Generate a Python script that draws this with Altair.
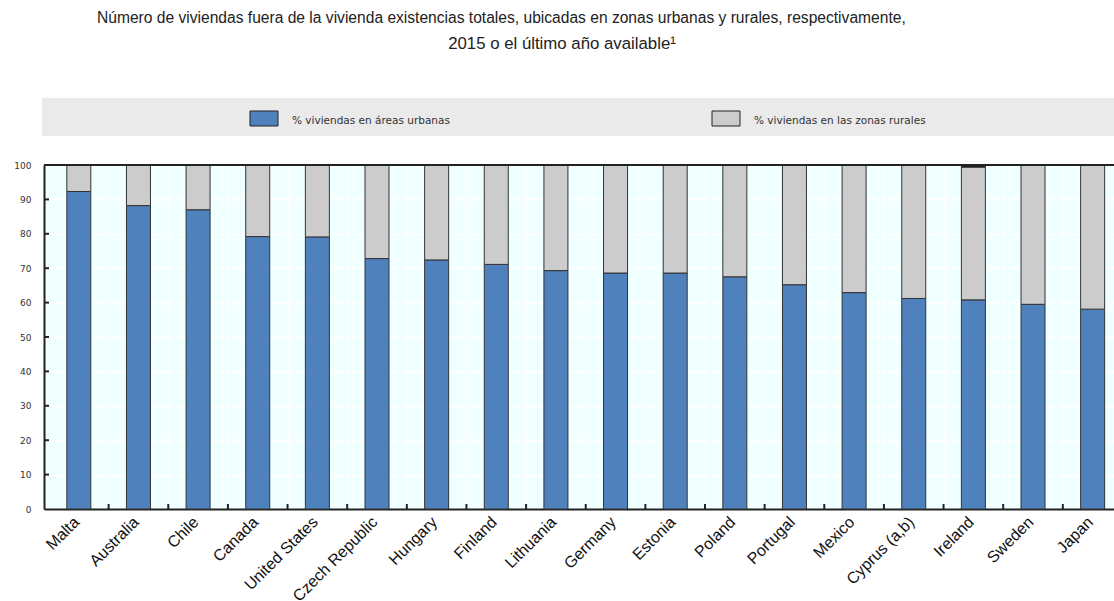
import altair as alt
import pandas as pd

# ---------------- data ----------------
countries = ["Malta", "Australia", "Chile", "Canada", "United States", "Czech Republic",
             "Hungary", "Finland", "Lithuania", "Germany", "Estonia", "Poland",
             "Portugal", "Mexico", "Cyprus (a,b)", "Ireland", "Sweden", "Japan"]
urban = [92.3, 88.2, 87.0, 79.2, 79.1, 72.8, 72.4, 71.1, 69.3, 68.6, 68.6, 67.5,
         65.2, 62.9, 61.2, 60.8, 59.5, 58.1]
rural = [7.7, 11.8, 13.0, 20.8, 20.9, 27.2, 27.6, 28.9, 30.7, 31.4, 31.4, 32.5,
         34.8, 37.1, 38.8, 38.6, 40.5, 41.9]
other = [0, 0, 0, 0, 0, 0, 0, 0, 0, 0, 0, 0, 0, 0, 0, 0.6, 0, 0]
series_names = ["% viviendas en áreas urbanas", "% viviendas en las zonas rurales", "n.d."]
y_ticks = [0, 10, 20, 30, 40, 50, 60, 70, 80, 90, 100]
title_line1 = "Número de viviendas fuera de la vivienda existencias totales, ubicadas en zonas urbanas y rurales, respectivamente,"
title_line2 = "2015 o el último año available¹"

# ---------------- styles ----------------
colors = ["#4F81BD", "#CCCCCC", "#111111"]
sans = "Liberation Sans, Arial"
small = "DejaVu Sans"

W, H = 1070, 344
STEP = 60.2

rows = []
for i, c in enumerate(countries):
    for k, vals in enumerate([urban, rural, other]):
        rows.append({"country": c, "idx": i, "series": series_names[k], "value": vals[i], "order": k})
df = pd.DataFrame(rows)
lab_df = pd.DataFrame({"country": countries, "idx": list(range(len(countries)))})
bounds = [i + 0.5 for i in range(len(countries) - 1)]
bnd_df = pd.DataFrame({"idx": bounds})
yt_df = pd.DataFrame({"value": y_ticks[1:-1]})

xs = alt.Scale(domain=[-0.5, -0.5 + W / STEP], nice=False, zero=False)
ys = alt.Scale(domain=[0, 100], nice=False)
xaxis = alt.Axis(values=bounds, grid=True, gridColor="white", gridWidth=1.5, ticks=False,
                 labels=False, domainColor="#222", domainWidth=2, title=None)
yaxis = alt.Axis(values=y_ticks, grid=True, gridColor="white", gridWidth=1.5, ticks=False,
                 labelPadding=13, labelFont=small, labelFontSize=9, labelColor="#333",
                 domainColor="#222", domainWidth=2, title=None)

bars = alt.Chart(df).mark_bar(size=24, stroke="#333", strokeWidth=1).encode(
    x=alt.X("idx:Q", scale=xs, axis=xaxis),
    y=alt.Y("value:Q", stack="zero", scale=ys, axis=yaxis),
    color=alt.Color("series:N", scale=alt.Scale(domain=series_names, range=colors), legend=None),
    order=alt.Order("order:Q"),
)

xticks = alt.Chart(bnd_df).mark_rule(color="#222", strokeWidth=2).encode(
    x=alt.X("idx:Q", scale=xs, axis=xaxis),
    y=alt.value(H), y2=alt.value(H - 5),
)
yticks = alt.Chart(yt_df).mark_rule(color="#222", strokeWidth=2).encode(
    y=alt.Y("value:Q", scale=ys, axis=yaxis),
    x=alt.value(0), x2=alt.value(5),
)
top = alt.Chart(pd.DataFrame({"value": [100]})).mark_rule(color="#222", strokeWidth=2).encode(
    y=alt.Y("value:Q", scale=ys, axis=yaxis),
)

labels = alt.Chart(lab_df).transform_calculate(lx="datum.idx - 0.13").mark_text(
    angle=315, align="right", baseline="top", font=sans, fontSize=16, color="#111").encode(
    x=alt.X("lx:Q", scale=xs, axis=xaxis),
    y=alt.value(H + 5),
    text="country:N",
)

t1 = alt.Chart(pd.DataFrame({"t": [title_line1]})).mark_text(
    align="left", baseline="middle", font=sans, fontSize=15.6, color="#222").encode(
    x=alt.value(53), y=alt.value(-147), text="t:N")
t2 = alt.Chart(pd.DataFrame({"t": [title_line2]})).mark_text(
    align="center", baseline="middle", font=sans, fontSize=16.8, color="#222").encode(
    x=alt.value(518), y=alt.value(-121), text="t:N")

band = alt.Chart(pd.DataFrame({"a": [0]})).mark_rect(fill="#EAEAEA").encode(
    x=alt.value(-2), x2=alt.value(W), y=alt.value(-67), y2=alt.value(-29))

legend_layers = []
sw_x = [206, 668]
for k in range(2):
    sw = alt.Chart(pd.DataFrame({"s": [series_names[k]]})).mark_rect(
        fill=colors[k], stroke="#222", strokeWidth=1).encode(
        x=alt.value(sw_x[k]), x2=alt.value(sw_x[k] + 28), y=alt.value(-54), y2=alt.value(-39))
    tx = alt.Chart(pd.DataFrame({"s": [series_names[k]]})).mark_text(
        align="left", baseline="middle", font=small, fontSize=10.5, color="#333").encode(
        x=alt.value(sw_x[k] + 42), y=alt.value(-44), text="s:N")
    legend_layers += [sw, tx]

chart = alt.layer(bars, xticks, yticks, top, labels, t1, t2, band, *legend_layers).properties(
    width=W, height=H,
    autosize=alt.AutoSizeParams(type="none"),
    padding={"left": 44, "top": 165, "right": 0, "bottom": 92},
    background="white",
).configure_view(fill="#F0FFFF", stroke=None)

chart.save("out.html", embed_options={"renderer": "svg", "actions": False})
